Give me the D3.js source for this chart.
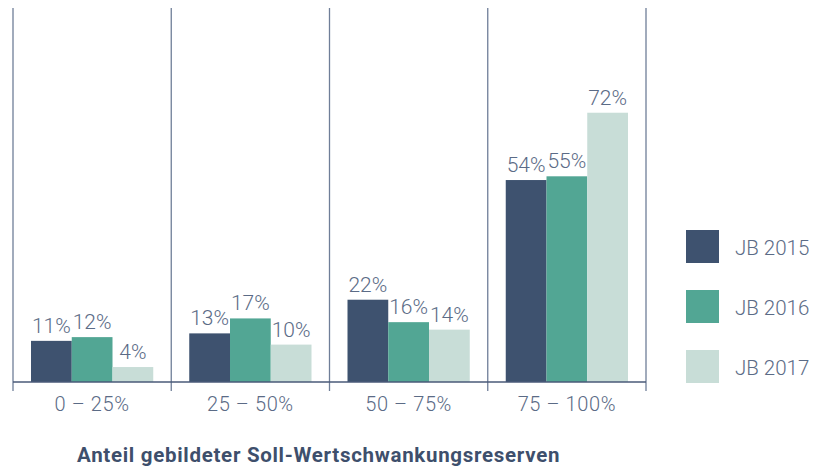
<!DOCTYPE html>
<html>
<head>
<meta charset="utf-8">
<script src="https://cdn.jsdelivr.net/npm/d3@7"></script>
<style>
  body { margin: 0; background: #fff; }
  svg { display: block; font-family: Roboto, "Open Sans", sans-serif; }
</style>
</head>
<body>
<svg width="817" height="468"></svg>
<script>
const svg_ = d3.select('svg');

// data
const categories = ["0 – 25%", "25 – 50%", "50 – 75%", "75 – 100%"];
const series = ["JB 2015", "JB 2016", "JB 2017"];
const values_2015 = [11, 13, 22, 54];
const values_2016 = [12, 17, 16, 55];
const values_2017 = [4, 10, 14, 72];
const title = "Anteil gebildeter Soll-Wertschwankungsreserven";

const COLORS = ["#3e526f", "#52a694", "#c8ddd7"];
const TEXT_C = "#5b6b86";

const DIMS = {
    LEFT: 13,
    RIGHT: 646,
    TOP: 8,
    BASE: 382,
    GRID_BOTTOM: 391,
    PAD: 18
};

const values = [values_2015, values_2016, values_2017];

const x0 = d3.scaleBand()
    .domain(categories)
    .range([DIMS.LEFT, DIMS.RIGHT]);

const x1 = d3.scaleBand()
    .domain(series)
    .range([DIMS.PAD, x0.bandwidth() - DIMS.PAD]);

const y = d3.scaleLinear()
    .domain([0, 100])
    .range([DIMS.BASE, DIMS.TOP]);

// vertical separators
const bounds = categories.map(c => x0(c)).concat([DIMS.RIGHT]);
svg_.append("g")
    .selectAll("line")
    .data(bounds)
    .join("line")
    .attr("x1", d => d)
    .attr("x2", d => d)
    .attr("y1", DIMS.TOP)
    .attr("y2", DIMS.GRID_BOTTOM)
    .attr("stroke", "#6f7e98")
    .attr("stroke-width", 1.3);

// bars
const rows = [];
categories.forEach((c, i) => {
    series.forEach((s, j) => rows.push({cat: c, ser: s, j: j, v: values[j][i]}));
});

const groups = svg_.append("g")
    .selectAll("g")
    .data(rows)
    .join("g");

groups.append("rect")
    .attr("x", d => x0(d.cat) + x1(d.ser))
    .attr("y", d => y(d.v))
    .attr("width", x1.bandwidth())
    .attr("height", d => y(0) - y(d.v))
    .attr("fill", d => COLORS[d.j]);

groups.append("text")
    .attr("x", d => x0(d.cat) + x1(d.ser) + x1.bandwidth() / 2)
    .attr("y", d => y(d.v) - 8)
    .attr("text-anchor", "middle")
    .attr("font-size", 21)
    .attr("font-weight", 300)
    .attr("fill", TEXT_C)
    .text(d => d.v + "%");

// baseline
svg_.append("line")
    .attr("x1", DIMS.LEFT)
    .attr("x2", DIMS.RIGHT)
    .attr("y1", y(0))
    .attr("y2", y(0))
    .attr("stroke", "#4a5a78")
    .attr("stroke-width", 1.5);

// category labels
svg_.append("g")
    .selectAll("text")
    .data(categories)
    .join("text")
    .attr("x", d => x0(d) + x0.bandwidth() / 2)
    .attr("y", 411)
    .attr("text-anchor", "middle")
    .attr("font-size", 20)
    .attr("font-weight", 300)
    .attr("letter-spacing", 0.6)
    .attr("fill", TEXT_C)
    .text(d => d);

// title
svg_.append("text")
    .attr("x", 77)
    .attr("y", 462)
    .attr("font-size", 20.5)
    .attr("font-weight", 700)
    .attr("letter-spacing", 0.7)
    .attr("fill", "#3e4f6c")
    .text(title);

// legend
const legend = svg_.append("g")
    .selectAll("g")
    .data(series)
    .join("g")
    .attr("transform", (d, i) => `translate(686, ${230 + i * 60})`);

legend.append("rect")
    .attr("width", 33)
    .attr("height", 33)
    .attr("fill", (d, i) => COLORS[i]);

legend.append("text")
    .attr("x", 49)
    .attr("y", 25)
    .attr("font-size", 20.5)
    .attr("font-weight", 300)
    .attr("fill", TEXT_C)
    .text(d => d);
</script>
</body>
</html>
